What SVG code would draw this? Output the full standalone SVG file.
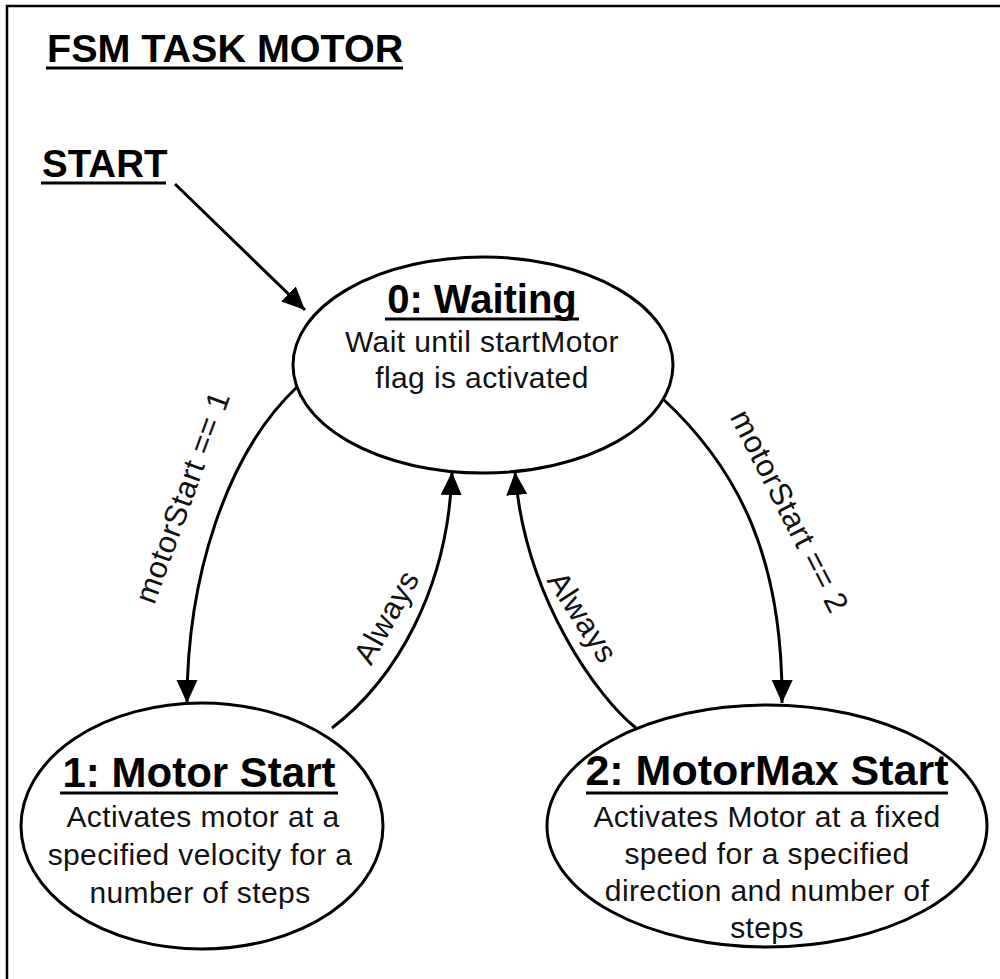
<svg xmlns="http://www.w3.org/2000/svg" width="1000" height="979" viewBox="0 0 1000 979">
  <style>
    .frame { fill: none; stroke: #000; stroke-width: 2.5; }
    .state { fill: #fff; stroke: #000; stroke-width: 3; }
    .head { font-family: "Liberation Sans", Arial, sans-serif; font-weight: bold; fill: #000; }
    .name { font-family: "Liberation Sans", Arial, sans-serif; font-weight: bold; fill: #000; text-anchor: middle; }
    .body { font-family: "Liberation Sans", Arial, sans-serif; font-size: 30px; fill: #111; text-anchor: middle; letter-spacing: 0.4px; }
    .label { font-family: "Liberation Sans", Arial, sans-serif; font-size: 31px; fill: #111; text-anchor: middle; letter-spacing: 0.5px; }
    .edge { fill: none; stroke: #000; stroke-width: 3; marker-end: url(#arrow); }
    .rule { stroke: #000; stroke-width: 3; }
  </style>
  <defs>
    <marker id="arrow" markerUnits="userSpaceOnUse" markerWidth="24" markerHeight="22" refX="23" refY="10.5" orient="auto">
      <path d="M0,0 L23,10.5 L0,21 z" fill="#000"/>
    </marker>
  </defs>

  <rect width="1000" height="979" fill="#fff"/>
  <rect class="frame" x="7" y="6" width="1010" height="1000"/>

  <!-- heading -->
  <g id="title">
    <text class="head" x="47" y="62" font-size="39.5">FSM TASK MOTOR</text>
    <line class="rule" x1="46" y1="68" x2="403" y2="68"/>
  </g>
  <g id="start">
    <text class="head" x="42" y="177" font-size="38.5">START</text>
    <line class="rule" x1="41" y1="183" x2="166" y2="183"/>
  </g>

  <!-- transitions -->
  <g id="connectors">
    <path class="edge" d="M175,184 L305,310"/>
    <path class="edge" d="M297,387 C225,455 187,580 187,703"/>
    <path class="edge" d="M332,728 C395,680 448,590 452,472"/>
    <path class="edge" d="M662,398 C740,470 783,560 782,703"/>
    <path class="edge" d="M636,728 C600,700 525,600 515,472"/>
    <text class="label" transform="translate(182,497) rotate(-70)" y="11">motorStart == 1</text>
    <text class="label" transform="translate(386,617) rotate(-61)" y="11">Always</text>
    <text class="label" transform="translate(790,511) rotate(63)" y="11">motorStart == 2</text>
    <text class="label" transform="translate(583,617) rotate(57)" y="11">Always</text>
  </g>

  <!-- states -->
  <g id="state-waiting">
    <ellipse class="state" cx="483" cy="365" rx="190" ry="108"/>
    <text class="name" x="482" y="313" font-size="40">0: Waiting</text>
    <line class="rule" x1="385" y1="319" x2="579" y2="319"/>
    <text class="body" x="482" y="352">Wait until startMotor</text>
    <text class="body" x="482" y="388">flag is activated</text>
  </g>

  <g id="state-motor-start">
    <ellipse class="state" cx="202" cy="826" rx="181" ry="123"/>
    <text class="name" x="199" y="787" font-size="42">1: Motor Start</text>
    <line class="rule" x1="60" y1="793" x2="338" y2="793"/>
    <text class="body" x="203" y="827">Activates motor at a</text>
    <text class="body" x="200" y="865">specified velocity for a</text>
    <text class="body" x="200" y="903">number of steps</text>
  </g>

  <g id="state-motormax-start">
    <ellipse class="state" cx="767" cy="826" rx="220" ry="121"/>
    <text class="name" x="767" y="785" font-size="43">2: MotorMax Start</text>
    <line class="rule" x1="586" y1="793" x2="948" y2="793"/>
    <text class="body" x="767" y="827">Activates Motor at a fixed</text>
    <text class="body" x="767" y="864">speed for a specified</text>
    <text class="body" x="767" y="901">direction and number of</text>
    <text class="body" x="767" y="938">steps</text>
  </g>
</svg>
